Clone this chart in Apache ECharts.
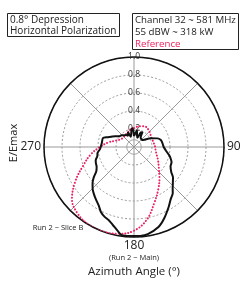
<!DOCTYPE html>
<html>
<head>
<meta charset="utf-8">
<script src="https://cdn.jsdelivr.net/npm/echarts@6/dist/echarts.min.js"></script>
<style>
html, body { margin: 0; padding: 0; background: #fff; }
#main { width: 250px; height: 289px; }
</style>
</head>
<body>
<div id="main"></div>
<script>
var FONT = '"Open Sans", Lato, sans-serif';
var RED = '#ee1f5f';

// measured pattern (black): azimuth in degrees, relative field E/Emax
var mainAngles = [0, 5, 10, 15, 20, 25, 30, 35, 40, 45, 50, 55, 62, 70, 76, 83, 90, 97, 103, 108,
    112, 118, 124, 128, 133, 137, 140, 145, 150, 157, 163, 171, 176, 182, 188, 191, 195, 199, 203, 207,
    211, 216, 220, 224, 229, 233, 237, 242, 247, 251, 256, 261, 266, 270, 278, 286, 290, 294, 300, 307,
    313, 320, 327, 333, 338, 343, 348, 352, 356, 360];
var mainValues = [0.12, 0.15, 0.19, 0.13, 0.11, 0.18, 0.19, 0.13, 0.12, 0.12, 0.12, 0.14, 0.21, 0.28, 0.31, 0.32, 0.33, 0.36, 0.40, 0.43,
    0.45, 0.46, 0.50, 0.55, 0.59, 0.63, 0.67, 0.71, 0.77, 0.86, 0.93, 0.98, 0.99, 0.99, 0.99, 0.95, 0.90, 0.86, 0.84, 0.81,
    0.76, 0.72, 0.69, 0.66, 0.61, 0.56, 0.50, 0.47, 0.46, 0.45, 0.42, 0.41, 0.38, 0.37, 0.36, 0.36, 0.32, 0.28, 0.24, 0.20,
    0.19, 0.17, 0.16, 0.14, 0.18, 0.12, 0.15, 0.20, 0.21, 0.12];

// reference pattern (red dotted)
var refAngles = [0, 10, 20, 30, 40, 50, 60, 70, 80, 90, 100, 110, 120, 130, 140, 150, 160, 170, 180,
    190, 200, 210, 220, 230, 240, 250, 260, 270, 280, 290, 300, 310, 320, 330, 340, 350, 360];
var refValues = [0.21, 0.23, 0.245, 0.26, 0.25, 0.235, 0.22, 0.22, 0.225, 0.235, 0.245, 0.27, 0.31, 0.36, 0.44, 0.54, 0.66, 0.82, 0.93,
    0.98, 1.0, 1.0, 0.97, 0.9, 0.75, 0.6, 0.49, 0.38, 0.29, 0.21, 0.17, 0.16, 0.16, 0.17, 0.18, 0.2, 0.21];

// small hub circle drawn at the centre
var hubAngles = [];
for (var a = 0; a <= 360; a += 10) hubAngles.push(a);
var hubValue = 0.08;

var angleLabels = [90, 180, 270];
var radiusTicks = [0.2, 0.4, 0.6, 0.8, 1.0];

function pairs(angles, values) {
    return angles.map(function (ang, i) { return [values[i], ang]; });
}

var myChart = echarts.init(document.getElementById('main'));
var option = {
    animation: false,
    title: [{
        text: '0.8° Depression\nHorizontal Polarization',
        left: 7, top: 13,
        padding: [1, 3, 0, 3],
        borderColor: '#222', borderWidth: 1,
        textStyle: { fontFamily: FONT, fontSize: 10, fontWeight: 'normal', color: '#222', lineHeight: 11.5 }
    }, {
        text: '{a|Channel 32 ~ 581 MHz}\n{a|55 dBW ~ 318 kW}\n{r|Reference}',
        left: 132, top: 13,
        padding: [1, 3, 0, 3],
        borderColor: '#222', borderWidth: 1,
        textStyle: {
            fontFamily: FONT, fontSize: 9.7, fontWeight: 'normal', color: '#222', lineHeight: 12,
            rich: {
                a: { fontFamily: FONT, fontSize: 9.7, color: '#222', lineHeight: 12 },
                r: { fontFamily: FONT, fontSize: 9.7, color: RED, lineHeight: 12 }
            }
        }
    }],
    polar: { center: [134, 147], radius: 90 },
    angleAxis: {
        type: 'value', min: 0, max: 360, interval: 45,
        startAngle: 90, clockwise: true,
        axisLine: { lineStyle: { color: '#111', width: 1.5 } },
        axisTick: { show: false },
        axisLabel: {
            margin: 3, fontFamily: FONT, fontSize: 12, color: '#222',
            formatter: function (v) { return angleLabels.indexOf(v) >= 0 ? String(v) : ''; }
        },
        splitLine: { lineStyle: { color: '#999', width: 1 } }
    },
    radiusAxis: {
        type: 'value', min: 0, max: 1, interval: 0.2,
        axisLine: { show: false },
        axisTick: { show: false },
        axisLabel: {
            margin: -6, fontFamily: FONT, fontSize: 8.5, color: '#333',
            formatter: function (v) { return radiusTicks.indexOf(Math.round(v * 10) / 10) >= 0 ? v.toFixed(1) : ''; }
        },
        splitLine: { lineStyle: { color: '#999', width: 1, type: [2, 2] } }
    },
    series: [{
        type: 'line', coordinateSystem: 'polar', silent: true,
        data: pairs(hubAngles, hubAngles.map(function () { return hubValue; })),
        symbol: 'none', smooth: true,
        lineStyle: { color: '#999', width: 1 }
    }, {
        name: 'Reference', type: 'line', coordinateSystem: 'polar',
        data: pairs(refAngles, refValues),
        symbol: 'none', smooth: 0.4,
        lineStyle: { color: RED, width: 2, type: [0.1, 3], cap: 'round' }
    }, {
        name: 'Run 2', type: 'line', coordinateSystem: 'polar',
        data: pairs(mainAngles, mainValues),
        symbol: 'none', smooth: 0.2,
        lineStyle: { color: '#111', width: 2 }
    }],
    graphic: [{
        type: 'text', x: 14, y: 143, rotation: Math.PI / 2,
        style: { text: 'E/Emax', fontFamily: FONT, fontSize: 11, fill: '#222', align: 'center', verticalAlign: 'middle' }
    }, {
        type: 'text', x: 58, y: 228,
        style: { text: 'Run 2 ~ Slice B', fontFamily: FONT, fontSize: 7.5, fill: '#222', align: 'center', verticalAlign: 'middle' }
    }, {
        type: 'text', x: 134, y: 258,
        style: { text: '(Run 2 ~ Main)', fontFamily: FONT, fontSize: 7.5, fill: '#222', align: 'center', verticalAlign: 'middle' }
    }, {
        type: 'text', x: 134, y: 272,
        style: { text: 'Azimuth Angle (°)', fontFamily: FONT, fontSize: 11.5, fill: '#222', align: 'center', verticalAlign: 'middle' }
    }]
};
myChart.setOption(option);
</script>
</body>
</html>
